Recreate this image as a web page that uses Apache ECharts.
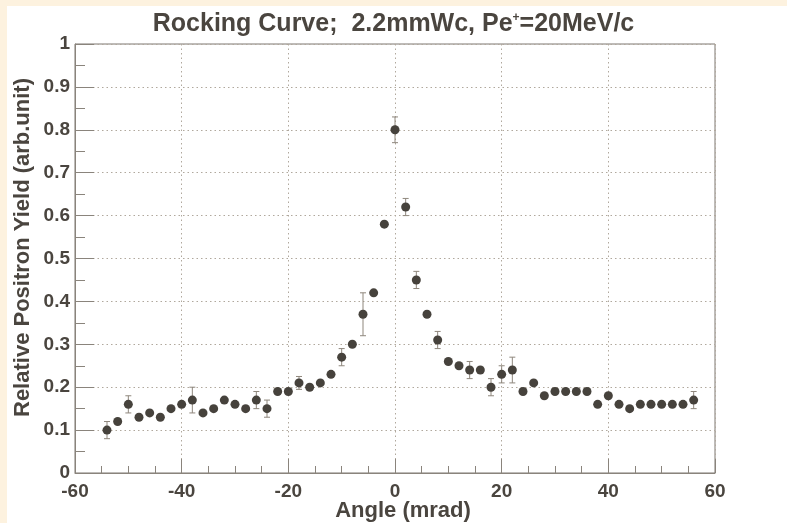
<!DOCTYPE html>
<html>
<head>
<meta charset="utf-8">
<script src="https://cdn.jsdelivr.net/npm/echarts@6/dist/echarts.min.js"></script>
<style>
html,body{margin:0;padding:0;background:#fdf2df;}
#c{width:787px;height:523px;}
</style>
</head>
<body>
<div id="c"></div>
<script>
const angles = [-54,-52,-50,-48,-46,-44,-42,-40,-38,-36,-34,-32,-30,-28,-26,-24,-22,-20,-18,-16,-14,-12,-10,-8,-6,-4,-2,0,2,4,6,8,10,12,14,16,18,20,22,24,26,28,30,32,34,36,38,40,42,44,46,48,50,52,54,56];
const yields = [0.10,0.12,0.16,0.13,0.14,0.13,0.15,0.16,0.17,0.14,0.15,0.17,0.16,0.15,0.17,0.15,0.19,0.19,0.21,0.20,0.21,0.23,0.27,0.30,0.37,0.42,0.58,0.80,0.62,0.45,0.37,0.31,0.26,0.25,0.24,0.24,0.20,0.23,0.24,0.19,0.21,0.18,0.19,0.19,0.19,0.19,0.16,0.18,0.16,0.15,0.16,0.16,0.16,0.16,0.16,0.17];
const errors = [0.02,0,0.02,0,0,0,0,0,0.03,0,0,0,0,0,0.02,0.02,0,0,0.015,0,0,0,0.02,0,0.05,0,0,0.03,0.02,0.02,0,0.02,0,0,0.02,0,0.02,0.02,0.03,0,0,0,0,0,0,0,0,0,0,0,0,0,0,0,0,0.02];
const xTicks = {min: -60, max: 60, interval: 20};
const yTicks = {min: 0, max: 1, interval: 0.1};

const textColor = '#4a453f';
const axisColor = '#8a847c';
const font = 'Liberation Sans';
const points = angles.map((a, i) => [a, yields[i]]);
const errData = angles.map((a, i) => [a, yields[i], errors[i]]);

const chart = echarts.init(document.getElementById('c'));
chart.setOption({
  backgroundColor: '#fdf2df',
  animation: false,
  graphic: [{
    type: 'rect', z: -10, silent: true,
    shape: {x: 7, y: 6, width: 780, height: 517},
    style: {fill: '#ffffff'}
  }],
  title: {
    text: 'Rocking Curve;  2.2mmWc, Pe{sup|+}=20MeV/c',
    left: 'center', top: 7,
    textStyle: {
      fontFamily: font, fontSize: 25, fontWeight: 'bold', color: textColor,
      rich: {sup: {fontFamily: font, fontSize: 12, fontWeight: 'bold', color: textColor, verticalAlign: 'top'}}
    }
  },
  grid: {left: 75, right: 72, top: 44, bottom: 50, outerBoundsMode: 'none', containLabel: false, show: true, borderColor: '#7d7770', borderWidth: 1, backgroundColor: '#ffffff'},
  xAxis: {
    type: 'value', min: xTicks.min, max: xTicks.max, interval: xTicks.interval,
    name: 'Angle (mrad)', nameLocation: 'middle', nameGap: 27, nameMoveOverlap: false,
    nameTextStyle: {fontFamily: font, fontSize: 22, fontWeight: 'bold', color: textColor, padding: [0, 0, 0, 16]},
    axisLine: {show: true, onZero: false, lineStyle: {color: axisColor, width: 1}},
    axisTick: {show: true, inside: true, length: 14, lineStyle: {color: axisColor}},
    minorTick: {show: true, splitNumber: 4, length: 7, lineStyle: {color: axisColor}},
    axisLabel: {fontFamily: font, fontSize: 19, fontWeight: 'bold', color: textColor, margin: 9},
    splitLine: {show: true, lineStyle: {color: '#b0a89d', type: [1.5, 3], width: 1}}
  },
  yAxis: {
    type: 'value', min: yTicks.min, max: yTicks.max, interval: yTicks.interval,
    name: 'Relative Positron Yield (arb.unit)', nameLocation: 'middle', nameGap: 41, nameMoveOverlap: false,
    nameTextStyle: {fontFamily: font, fontSize: 22, fontWeight: 'bold', color: textColor, padding: [0, 0, 0, 22]},
    axisLine: {show: true, onZero: false, lineStyle: {color: axisColor, width: 1}},
    axisTick: {show: true, inside: true, length: 19, lineStyle: {color: axisColor}},
    minorTick: {show: true, splitNumber: 2, length: 10, lineStyle: {color: axisColor}},
    axisLabel: {fontFamily: font, fontSize: 19, fontWeight: 'bold', color: textColor, margin: 5},
    splitLine: {show: true, lineStyle: {color: '#b0a89d', type: [1.5, 3], width: 1}}
  },
  series: [
    {
      type: 'custom', z: 3,
      data: errData,
      renderItem: function (params, api) {
        const x = api.value(0), y = api.value(1), e = api.value(2);
        if (!e) return null;
        const hi = api.coord([x, y + e]);
        const lo = api.coord([x, y - e]);
        const c = 3;
        const st = {stroke: '#8f877d', lineWidth: 1};
        return {
          type: 'group',
          children: [
            {type: 'line', shape: {x1: hi[0], y1: hi[1], x2: lo[0], y2: lo[1]}, style: st},
            {type: 'line', shape: {x1: hi[0] - c, y1: hi[1], x2: hi[0] + c, y2: hi[1]}, style: st},
            {type: 'line', shape: {x1: lo[0] - c, y1: lo[1], x2: lo[0] + c, y2: lo[1]}, style: st}
          ]
        };
      }
    },
    {
      type: 'scatter', z: 4,
      data: points,
      symbol: 'circle', symbolSize: 9,
      itemStyle: {color: '#46423c', opacity: 1}
    }
  ]
});
</script>
</body>
</html>
